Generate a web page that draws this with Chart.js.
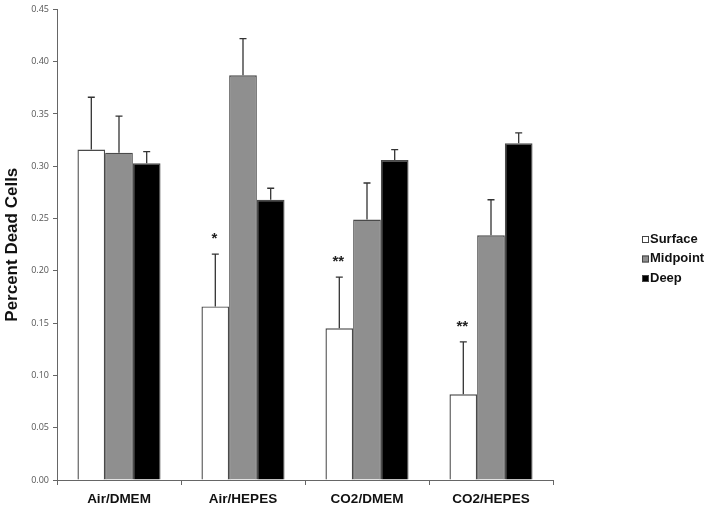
<!DOCTYPE html>
<html>
<head>
<meta charset="utf-8">
<script src="https://cdn.jsdelivr.net/npm/chart.js@4.4.0/dist/chart.umd.min.js"></script>
<style>
  html, body { margin: 0; padding: 0; background: #fff; }
  #wrap { width: 708px; height: 513px; }
</style>
</head>
<body>
<div id="wrap"><canvas id="chart"></canvas></div>
<script>
const categories = ['Air/DMEM', 'Air/HEPES', 'CO2/DMEM', 'CO2/HEPES'];
const seriesNames = ['Surface', 'Midpoint', 'Deep'];
const surface = [0.316, 0.166, 0.145, 0.082];
const midpoint = [0.313, 0.387, 0.249, 0.234];
const deep = [0.303, 0.268, 0.306, 0.322];
const surfaceErr = [0.050, 0.050, 0.049, 0.050];
const midpointErr = [0.035, 0.035, 0.035, 0.034];
const deepErr = [0.011, 0.011, 0.010, 0.010];
const surfaceMarks = ['', '*', '**', '**'];
const yTicks = [0, 0.05, 0.10, 0.15, 0.20, 0.25, 0.30, 0.35, 0.40, 0.45];

const fills = ['#ffffff', '#8f8f8f', '#000000'];
const errors = [surfaceErr, midpointErr, deepErr];

// error bars (upward only), asterisks and the legend on the right
const extras = {
    id: 'extras',
    afterDatasetsDraw(chart) {
        const ctx = chart.ctx;
        const y = chart.scales.y;
        ctx.save();
        ctx.strokeStyle = '#333';
        ctx.lineWidth = 1.3;
        chart.data.datasets.forEach((ds, di) => {
            const meta = chart.getDatasetMeta(di);
            meta.data.forEach((bar, i) => {
                const top = y.getPixelForValue(ds.data[i] + errors[di][i]);
                ctx.beginPath();
                ctx.moveTo(bar.x, bar.y);
                ctx.lineTo(bar.x, top);
                ctx.moveTo(bar.x - 3.5, top);
                ctx.lineTo(bar.x + 3.5, top);
                ctx.stroke();
                if (di === 0 && surfaceMarks[i]) {
                    ctx.fillStyle = '#222';
                    ctx.font = 'bold 15px "Liberation Sans", Arial, sans-serif';
                    ctx.textAlign = 'center';
                    ctx.textBaseline = 'middle';
                    ctx.fillText(surfaceMarks[i], bar.x - 1, top - 15);
                }
            });
        });

        // legend
        ctx.font = 'bold 13px "Liberation Sans", Arial, sans-serif';
        ctx.textAlign = 'left';
        ctx.textBaseline = 'middle';
        seriesNames.forEach((name, i) => {
            const ly = 239 + i * 19.5;
            ctx.fillStyle = fills[i];
            ctx.fillRect(642, ly - 3, 7, 7);
            ctx.strokeStyle = '#444';
            ctx.lineWidth = 1;
            ctx.strokeRect(642.5, ly - 2.5, 6, 6);
            ctx.fillStyle = '#111';
            ctx.fillText(name, 650, ly);
        });
        ctx.restore();
    }
};

new Chart(document.getElementById('chart'), {
    type: 'bar',
    data: {
        labels: categories,
        datasets: [surface, midpoint, deep].map((vals, i) => ({
            label: seriesNames[i],
            data: vals,
            backgroundColor: fills[i],
            borderColor: '#4a4a4a',
            borderWidth: 1.4,
            borderSkipped: 'bottom',
            categoryPercentage: 0.67,
            barPercentage: 1.0
        }))
    },
    options: {
        responsive: true,
        maintainAspectRatio: false,
        animation: false,
        layout: { padding: { left: 0, right: 155, top: 9, bottom: 0 } },
        plugins: {
            legend: { display: false },
            tooltip: { enabled: false }
        },
        scales: {
            x: {
                grid: {
                    offset: true,
                    drawOnChartArea: false,
                    drawTicks: true,
                    tickLength: 5,
                    color: '#666'
                },
                border: { color: '#666', width: 1 },
                ticks: {
                    color: '#111',
                    padding: 6,
                    font: { family: '"Liberation Sans", Arial, sans-serif', size: 13.5, weight: 'bold' }
                },
                afterFit: s => { s.height = 33; }
            },
            y: {
                min: 0,
                max: 0.45,
                afterBuildTicks: s => { s.ticks = yTicks.map(v => ({ value: v })); },
                grid: {
                    drawOnChartArea: false,
                    drawTicks: true,
                    tickLength: 4,
                    color: '#666'
                },
                border: { color: '#666', width: 1 },
                ticks: {
                    color: '#555',
                    padding: 4,
                    font: { family: '"Open Sans", sans-serif', size: 9 },
                    callback: v => Number(v).toFixed(2)
                },
                title: {
                    display: true,
                    text: 'Percent Dead Cells',
                    color: '#111',
                    padding: { top: 2, bottom: 2 },
                    font: { family: '"Liberation Sans", Arial, sans-serif', size: 17, weight: 'bold' }
                },
                afterFit: s => { s.width = 57; }
            }
        }
    },
    plugins: [extras]
});
</script>
</body>
</html>
